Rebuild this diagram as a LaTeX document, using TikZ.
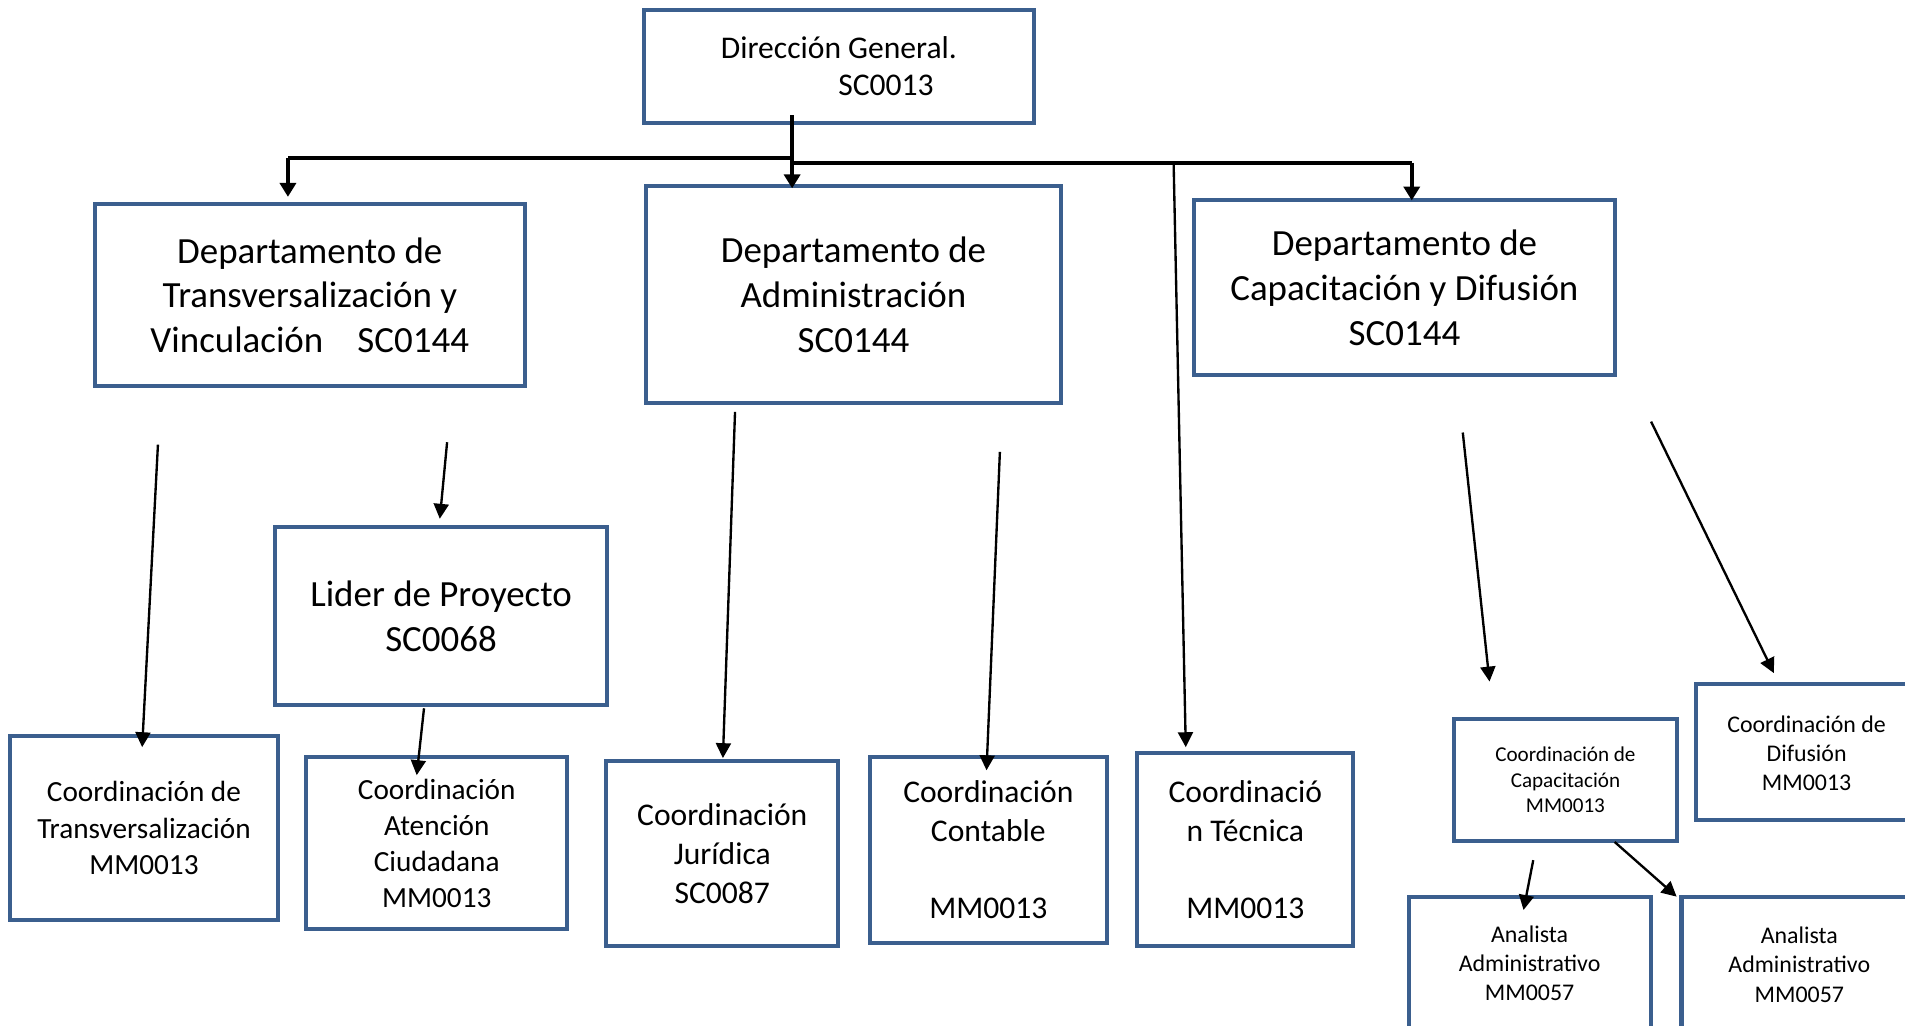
\documentclass[tikz,border=0pt]{standalone}
\usepackage{fontspec}
\setmainfont{Carlito}
\usetikzlibrary{arrows.meta}
\definecolor{boxblue}{HTML}{3B5F8E}
\newcommand{\szBig}{\fontsize{17.3}{21}\selectfont}
\newcommand{\szTop}{\fontsize{14.8}{17.6}\selectfont}
\newcommand{\szMid}{\fontsize{14.8}{18.2}\selectfont}
\newcommand{\szCa}{\fontsize{13.7}{17}\selectfont}
\newcommand{\szCb}{\fontsize{13.7}{16.8}\selectfont}
\newcommand{\szSm}{\fontsize{11.2}{13.7}\selectfont}
\newcommand{\szXs}{\fontsize{9.9}{12}\selectfont}
\newcommand{\orgbox}[7]{\node[obox, #6, minimum width={(#4-#2)*0.02cm}, minimum height={(#5-#3)*0.02cm}] (#1) at ({(#2+#4)/2},{(#3+#5)/2}) {#7};}
\begin{document}
\begin{tikzpicture}[x=0.02cm, y=-0.02cm,
  obox/.style={draw=boxblue, line width=1.9pt, fill=white, align=center, inner sep=2pt, text=black},
  thk/.style={line width=2.1pt, -{Triangle[length=6.5pt,width=7.5pt]}},
  thn/.style={line width=1.1pt, -{Triangle[length=7pt,width=7pt]}}]
\clip (0,0) rectangle (1568,843.7);
\fill[white] (0,0) rectangle (1568,843.7);
% boxes
\orgbox{dg}{530}{8}{851}{101}{font=\szTop, align=left}{Dirección General.\\\hspace*{55pt}SC0013}
\orgbox{b1}{78}{168}{432}{318}{font=\szBig}{Departamento de\\Transversalización y\\Vinculación\hspace{16pt}SC0144}
\orgbox{b2}{532}{153}{873}{332}{font=\szBig}{Departamento de\\Administración\\SC0144}
\orgbox{b3}{983}{165}{1329}{309}{font=\szBig}{Departamento de\\Capacitación y Difusión\\SC0144}
\orgbox{lp}{226}{434}{500}{580}{font=\szBig}{Lider de Proyecto\\SC0068}
\orgbox{c1}{8}{606}{229}{757}{font=\szCa}{Coordinación de\\Transversalización\\MM0013}
\orgbox{c2}{252}{623}{467}{765}{font=\szCb}{Coordinación\\Atención\\Ciudadana\\MM0013}
\orgbox{c3}{499}{626}{690}{779}{font=\szMid}{Coordinación\\Jurídica\\SC0087}
\orgbox{c4}{716}{623}{911}{776}{font=\szMid}{Coordinación\\Contable\\[18.2pt]MM0013}
\orgbox{c5}{936}{620}{1114}{779}{font=\szMid}{Coordinació\\n Técnica\\[18.2pt]MM0013}
\orgbox{c6}{1197}{592}{1380}{692}{font=\szXs}{Coordinación de\\Capacitación\\MM0013}
\orgbox{c7}{1396}{563}{1640}{675}{font=\szSm}{\hspace*{0pt}}
\node[font=\szSm, align=center] (c7t) at (1487,620) {Coordinación de\\Difusión\\MM0013};
\orgbox{a1}{1160}{738}{1359}{900}{font=\szSm}{\hspace*{0pt}}
\node[font=\szSm, align=center] (a1t) at (1259,793) {Analista\\Administrativo\\MM0057};
\orgbox{a2}{1384}{738}{1640}{900}{font=\szSm}{\hspace*{0pt}}
\node[font=\szSm, align=center] (a2t) at (1481,794) {Analista\\Administrativo\\MM0057};
% thick connectors
\coordinate (j) at (652,130);
\coordinate (jl) at (237,130);
\coordinate (jr) at (1162,134);
\draw[line width=1.9pt] (j) -- (jl);
\draw[line width=1.9pt] (j |- jr) -- (jr);
\draw[thk] (jl) -- (237,162);
\draw[thk] (jr) -- (1162,165);
\draw[thk] (652,95) -- (652,155);
% thin arrows
\coordinate (s1) at (130,366);   \coordinate (e1) at (117,615);
\coordinate (s2) at (368,364);   \coordinate (e2) at (362,427);
\coordinate (s3) at (349,583);   \coordinate (e3) at (343,638);
\coordinate (s4) at (605,339);   \coordinate (e4) at (595,624);
\coordinate (s5) at (823,372);   \coordinate (e5) at (812,634);
\coordinate (s6) at (966,134);   \coordinate (e6) at (976,615);
\coordinate (s7) at (1204,356);  \coordinate (e7) at (1226,561);
\coordinate (s8) at (1359,347);  \coordinate (e8) at (1460,554);
\coordinate (s9) at (1262,708);  \coordinate (e9) at (1254,749);
\coordinate (s10) at (1329,693); \coordinate (e10) at (1380,738);
\foreach \i in {1,...,10} {\draw[thn] (s\i) -- (e\i);}
\end{tikzpicture}
\end{document}
